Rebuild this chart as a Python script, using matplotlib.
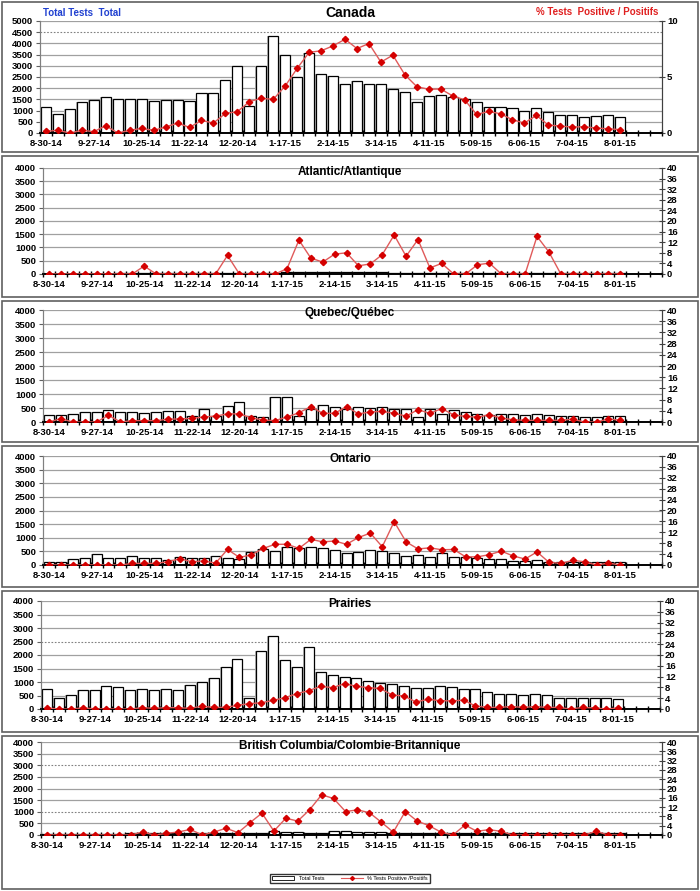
import matplotlib
matplotlib.use("Agg")
import matplotlib.pyplot as plt
from matplotlib.patches import Rectangle
from matplotlib.lines import Line2D

plt.rcParams["font.family"] = ["Liberation Sans", "DejaVu Sans"]
plt.rcParams["font.weight"] = "bold"

# --------------------------------------------------
# Data (weekly, 8-30-14 .. 8-01-15, 52 slots on the axis)
# --------------------------------------------------
n_slots = 52
tick_labels = ["8-30-14", "9-27-14", "10-25-14", "11-22-14", "12-20-14",
               "1-17-15", "2-14-15", "3-14-15", "4-11-15", "5-09-15",
               "6-06-15", "7-04-15", "8-01-15"]

canada_tests = [1150, 830, 1050, 1370, 1470, 1590, 1520, 1520, 1520, 1440,
                1490, 1490, 1430, 1770, 1770, 2380, 2970, 1220, 2990, 4330,
                3500, 2510, 3580, 2640, 2550, 2200, 2320, 2170, 2170, 1950,
                1820, 1400, 1650, 1700, 1600, 1510, 1370, 1180, 1150, 1110,
                990, 1110, 920, 810, 810, 710, 740, 810, 700]
canada_pct = [0.15, 0.24, 0.0, 0.24, 0.12, 0.65, 0.0, 0.24, 0.41, 0.24,
              0.53, 0.89, 0.5, 1.12, 0.89, 1.75, 1.9, 2.8, 3.1, 3.0,
              4.2, 5.77, 7.2, 7.34, 7.78, 8.37, 7.54, 7.99, 6.33, 6.95,
              5.2, 4.14, 3.9, 3.93, 3.31, 2.96, 1.66, 1.92, 1.72, 1.18,
              0.89, 1.57, 0.71, 0.62, 0.53, 0.56, 0.44, 0.38, 0.3]

atl_tests = [10, 10, 10, 10, 15, 15, 20, 20, 30, 25,
             25, 25, 25, 30, 30, 40, 45, 40, 35, 50,
             60, 70, 70, 70, 70, 70, 65, 60, 60, 55,
             50, 50, 45, 45, 40, 40, 35, 35, 30, 30,
             30, 30, 25, 25, 25, 25, 20, 20, 20]
atl_pct = [0, 0, 0, 0, 0, 0, 0, 0, 3, 0,
           0, 0, 0, 0, 0, 7, 0, 0, 0, 0,
           2, 12.8, 6, 4.5, 7.5, 8, 3.1, 3.8, 7.3, 14.7,
           6.7, 13, 2.3, 4.0, 0, 0, 3.5, 4.1, 0, 0,
           0, 14.2, 8.3, 0, 0, 0, 0, 0, 0]

qc_tests = [250, 250, 285, 357, 357, 417, 357, 357, 333, 357,
            380, 380, 200, 450, 225, 560, 700, 200, 190, 880,
            880, 200, 480, 600, 550, 450, 550, 490, 550, 450,
            450, 170, 450, 285, 430, 370, 285, 250, 285, 275,
            250, 275, 250, 225, 225, 190, 190, 225, 225]
qc_pct = [0, 1.2, 0, 0, 0, 2.4, 0, 0.5, 0.5, 0.5,
          1.0, 1.1, 1.3, 1.8, 2.1, 2.9, 2.9, 1.5, 0.7, 0.5,
          1.8, 3.3, 5.5, 3.1, 3.1, 5.5, 2.9, 3.6, 3.8, 3.1,
          2.1, 4.4, 3.1, 4.8, 2.5, 2.0, 1.7, 2.6, 1.4, 0.8,
          0.6, 0.6, 0.6, 0.6, 1.0, 0, 0, 1.1, 0.6]

on_tests = [120, 120, 207, 244, 390, 244, 244, 341, 244, 244,
            170, 280, 244, 244, 317, 244, 230, 490, 573, 512,
            660, 610, 660, 610, 537, 427, 490, 537, 512, 427,
            330, 366, 280, 427, 280, 280, 244, 207, 207, 146,
            146, 183, 122, 122, 122, 98, 98, 122, 98]
on_pct = [0, 0, 0, 0, 0, 0, 0, 0.6, 0.6, 0.6,
          1.2, 2.3, 1.2, 1.5, 0.7, 5.7, 2.8, 3.7, 6.1, 7.6,
          7.6, 6.1, 9.4, 8.5, 8.8, 7.6, 10.1, 11.7, 6.7, 15.9,
          8.5, 5.9, 6.3, 5.6, 5.7, 3.0, 3.0, 3.8, 5.1, 3.3,
          2.2, 4.8, 1.0, 0.6, 1.7, 1.2, 0, 0.7, 0]

pr_tests = [740, 394, 505, 700, 700, 837, 812, 690, 738, 690,
            738, 690, 874, 997, 1157, 1538, 1846, 394, 2130, 2708,
            1822, 1563, 2314, 1354, 1243, 1170, 1132, 1034, 972, 923,
            862, 775, 775, 837, 800, 750, 726, 615, 566, 566,
            505, 541, 505, 394, 394, 394, 394, 394, 357]
pr_pct = [0.4, 0, 0, 0.4, 0.1, 0, 0, 0, 0.5, 0.25,
          0.5, 0.5, 0.25, 1.0, 0.6, 0.6, 1.35, 2.0, 2.3, 3.2,
          4.2, 5.7, 6.8, 8.4, 7.9, 9.4, 8.4, 7.9, 7.6, 5.2,
          4.8, 2.6, 3.6, 3.1, 3.0, 3.3, 1.1, 0.6, 0.6, 0.9,
          0.6, 0.9, 0.6, 0.6, 0, 0.6, 0.4, 0, 0.4]

bc_tests = [30, 30, 40, 40, 50, 50, 60, 70, 80, 80,
            90, 90, 80, 80, 90, 90, 90, 100, 90, 170,
            110, 110, 100, 90, 190, 170, 130, 110, 110, 100,
            100, 100, 100, 100, 100, 90, 90, 90, 90, 80,
            80, 80, 80, 70, 70, 70, 70, 70, 70]
bc_pct = [0, 0, 0, 0, 0, 0, 0, 0, 1.3, 0,
          0.7, 1.3, 2.4, 0, 1.3, 2.9, 1.0, 5.3, 9.4, 1.7,
          7.2, 6.0, 10.9, 17.3, 15.7, 10.1, 10.8, 9.6, 5.5, 1.2,
          10.1, 6.0, 4.0, 1.2, 0, 4.3, 1.6, 2.3, 1.6, 0,
          0, 0, 0, 0, 0, 0, 1.6, 0, 0]

# --------------------------------------------------
# Layout (pixel boxes on a 700x891 canvas)
# --------------------------------------------------
W, H = 700, 891

panels = [
    # title, tests, pct, left max, right max, right step, axes box (x0, x1, ytop, ybot), title y, dotted grid
    ("Canada", canada_tests, canada_pct, 5000, 10, 5, (40, 662, 21, 133), 13, [4500]),
    ("Atlantic/Atlantique", atl_tests, atl_pct, 4000, 40, 4, (43, 662, 168, 274), 172, []),
    ("Quebec/Québec", qc_tests, qc_pct, 4000, 40, 4, (43, 662, 310, 422), 313, [0]),
    ("Ontario", on_tests, on_pct, 4000, 40, 4, (43, 662, 456, 565), 459, []),
    ("Prairies", pr_tests, pr_pct, 4000, 40, 4, (41, 660, 601, 709), 604, [2500]),
    ("British Columbia/Colombie-Britannique", bc_tests, bc_pct, 4000, 40, 4,
     (41, 662, 742, 835), 746, [3000, 1000]),
]
panel_frames = [(2, 152), (156, 297), (301, 442), (446, 587), (591, 732), (736, 889)]

fig = plt.figure(figsize=(W / 100, H / 100), dpi=100)

for (title, tests, pct, lmax, rmax, rstep, box, ty, dotted), frame in zip(panels, panel_frames):
    x0, x1, yt, yb = box
    ax = fig.add_axes([x0 / W, 1 - yb / H, (x1 - x0) / W, (yb - yt) / H])
    ax2 = ax.twinx()

    weeks = list(range(len(tests)))

    # grid lines
    for v in range(0, lmax + 1, 500):
        if v in dotted:
            ax.axhline(v, color="#808080", lw=0.8, ls=(0, (1.5, 1.5)), zorder=0)
        elif v > 0:
            ax.axhline(v, color="#a0a0a0", lw=0.9, zorder=0)

    # bars with a faint shading
    ax.bar([w - 0.06 for w in weeks], tests, width=0.86, color="#b8b8b8",
           edgecolor="none", zorder=1)
    ax.bar(weeks, tests, width=0.84, color="white", edgecolor="black",
           linewidth=0.9, zorder=2)

    ax2.plot(weeks, pct, color="#e05a5a", lw=1.0, marker="D", markersize=3.2,
             markerfacecolor="#d40000", markeredgecolor="#d40000", zorder=3)

    ax.set_xlim(-0.5, n_slots - 0.5)
    ax.set_ylim(0, lmax)
    ax2.set_ylim(0, rmax)

    ax.set_yticks(range(0, lmax + 1, 500))
    ax2.set_yticks(range(0, rmax + 1, rstep))
    ax.set_xticks(range(0, 49, 4))
    ax.set_xticklabels(tick_labels)
    ax.set_xticks([i + 0.5 for i in range(-1, n_slots)], minor=True)

    ax.tick_params(axis="x", which="major", length=0, pad=4, labelsize=6.8)
    ax.tick_params(axis="x", which="minor", length=4, direction="inout",
                   width=1.0, color="black")
    ax.tick_params(axis="y", length=3, width=0.8, color="#606060",
                   labelsize=6.8, pad=2)
    ax2.tick_params(axis="y", length=5, width=0.8, direction="inout",
                    color="#404040", labelsize=6.8, pad=1)

    for a in (ax, ax2):
        a.spines["top"].set_visible(False)
        a.spines["left"].set_color("#808080")
        a.spines["right"].set_color("#404040")
        a.spines["bottom"].set_color("black")
        a.spines["bottom"].set_linewidth(1.2)
        a.patch.set_visible(False)

    fs = 10 if title == "Canada" else 8.5
    fig.text(0.5, 1 - ty / H, title, ha="center", va="center", fontsize=fs,
             fontweight="bold")

    ft, fb = frame
    fig.patches.append(Rectangle((2 / W, 1 - fb / H), (W - 4) / W, (fb - ft) / H,
                                 transform=fig.transFigure, fill=False,
                                 edgecolor="#606060", lw=1.2))

# Canada axis captions
fig.text(43 / W, 1 - 13 / H, "Total Tests  Total", color="#2040d0",
         fontsize=7, fontweight="bold", ha="left", va="center")
fig.text(658 / W, 1 - 12 / H, "% Tests  Positive / Positifs", color="#e02020",
         fontsize=7, fontweight="bold", ha="right", va="center")

# --------------------------------------------------
# Legend
# --------------------------------------------------
handles = [
    Rectangle((0, 0), 1, 1, facecolor="white", edgecolor="black", lw=0.6),
    Line2D([0], [0], color="#e05a5a", lw=0.8, marker="D", markersize=2,
           markerfacecolor="#d40000", markeredgecolor="#d40000"),
]
fig.legend(handles, ["Total Tests", "% Tests Positive /Positifs"],
           loc="center", bbox_to_anchor=(350 / W, 1 - 878.5 / H), ncol=2,
           frameon=True, fancybox=False, edgecolor="black",
           handlelength=4, handleheight=0.6, columnspacing=3,
           borderpad=0.4, prop={"size": 4, "weight": "normal"})

fig.savefig("out.png", dpi=100)
